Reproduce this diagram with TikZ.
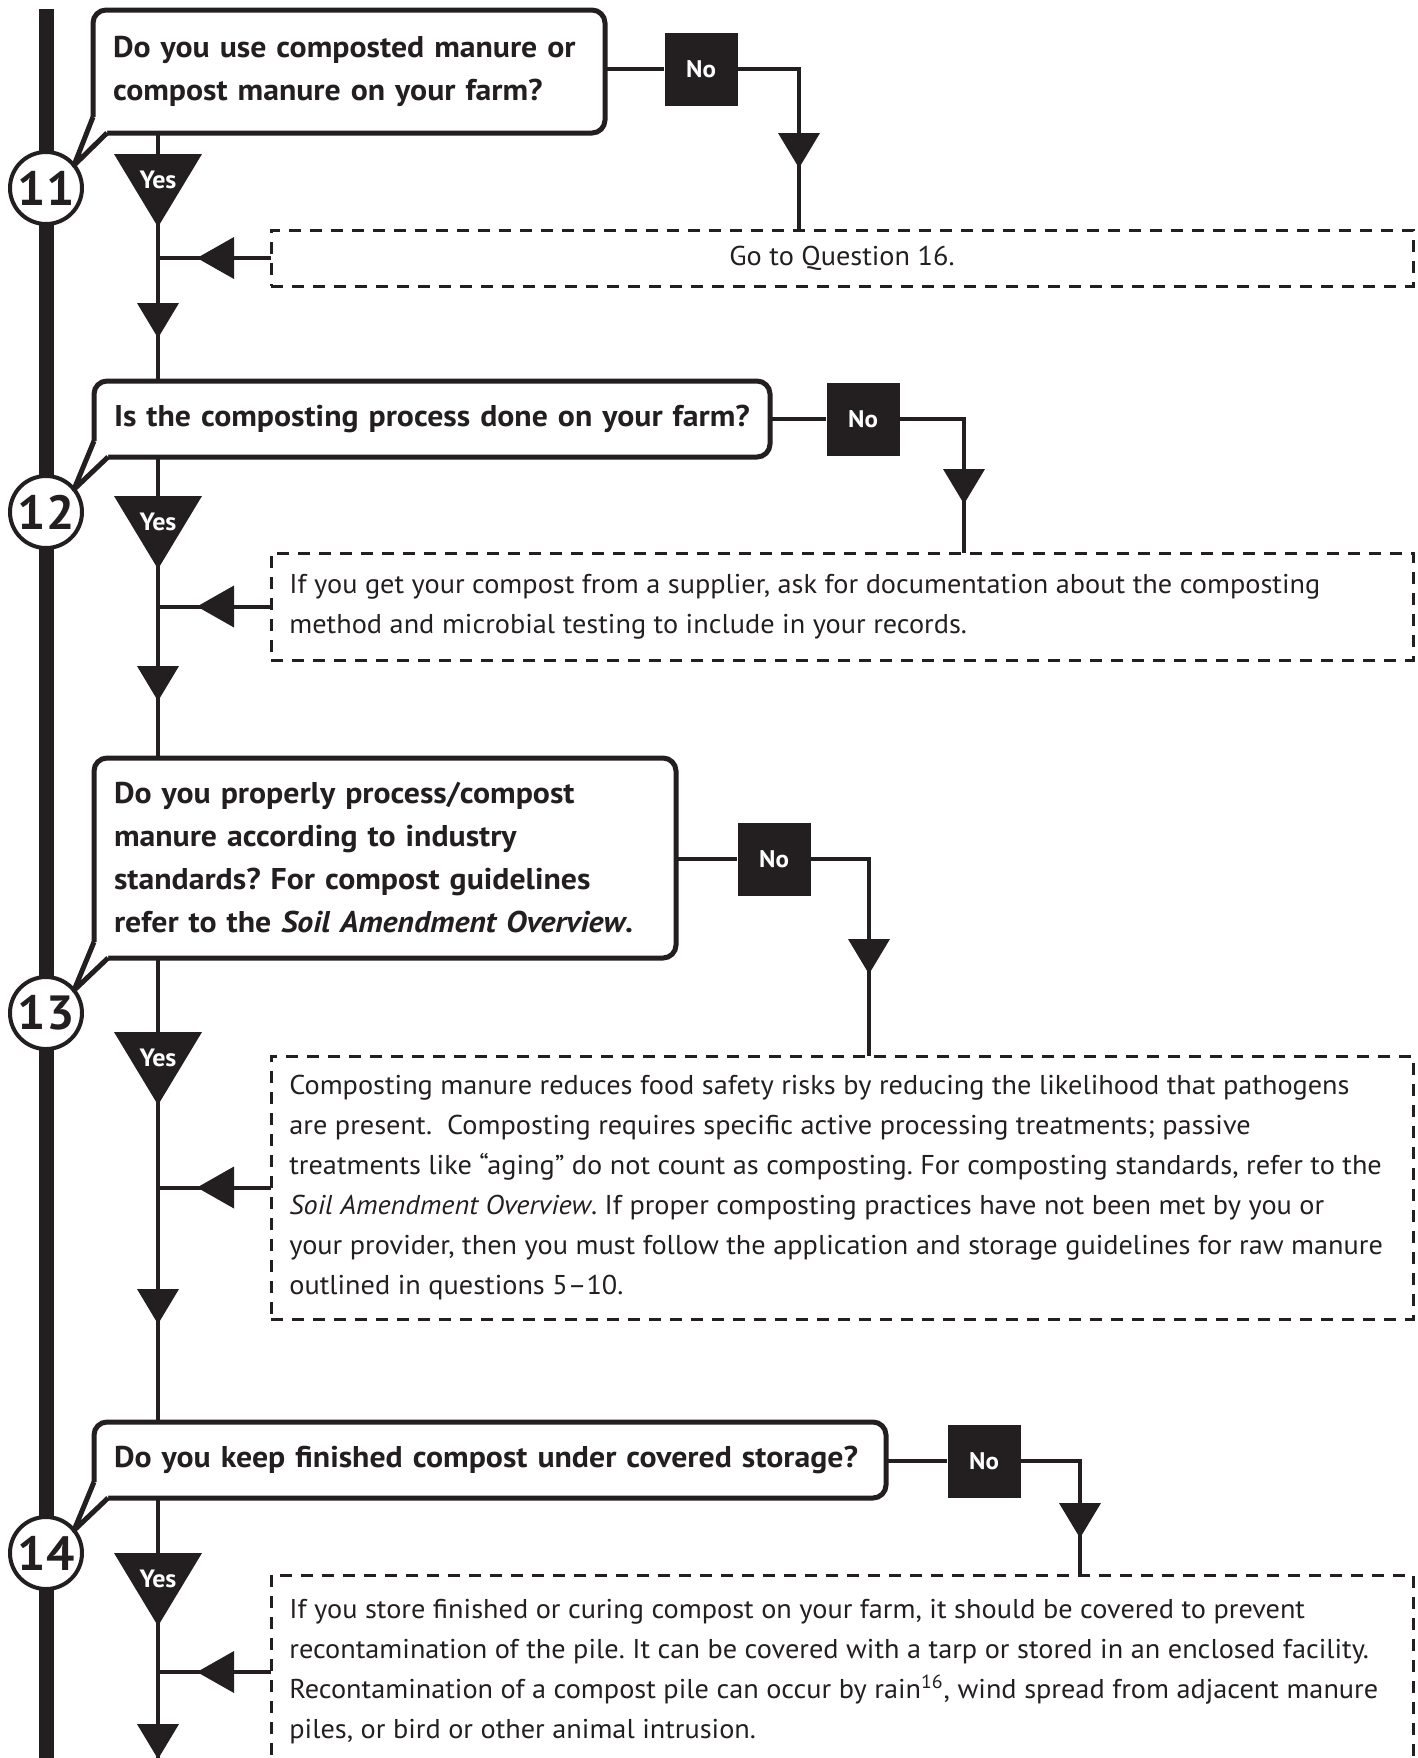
\documentclass[tikz,border=0pt]{standalone}
\usepackage{fontspec}
\setmainfont{PT Sans}[FakeStretch=1.04]
\newfontfamily\questionfont{PT Sans}[FakeStretch=1.06]
\usetikzlibrary{calc}
\definecolor{ink}{RGB}{35,31,32}
\tikzset{
  spine/.style={draw=ink,line width=7.5pt},
  flowline/.style={draw=ink,line width=2pt},
  questionbox/.style={draw=ink,fill=white,line width=2.5pt,rounded corners=6.5pt,anchor=north west,
    inner xsep=10pt,inner ysep=0pt,outer sep=0pt,align=left,text=ink,
    font=\questionfont\fontsize{15}{21.5}\selectfont\bfseries},
  calloutline/.style={draw=ink,line width=2.5pt,line join=round},
  numbercircle/.style={circle,draw=ink,fill=white,line width=2pt,minimum size=36pt,inner sep=0pt,
    outer sep=0pt,text=ink,font=\fontsize{24}{24}\selectfont\bfseries},
  nobox/.style={fill=ink,text=white,minimum size=36.5pt,inner sep=0pt,
    font=\fontsize{12}{12}\selectfont\bfseries},
  notebox/.style={draw=ink,line width=1.5pt,dash pattern=on 6pt off 4.5pt,anchor=north west,
    minimum width=571pt,inner sep=0pt,outer sep=0pt,text=ink,font=\fontsize{13.6}{20}\selectfont},
  notetext/.style={anchor=west,align=left,inner sep=0pt,text=ink,font=\fontsize{13.6}{20}\selectfont},
  yeslabel/.style={text=white,inner sep=0pt,font=\fontsize{12.5}{12.5}\selectfont\bfseries},
  yestri/.pic={\fill[ink] (-44,0) -- (44,0) -- (0,73) -- cycle;
    \node[yeslabel] (-lbl) at (0,26) {Yes};},
  downtip/.pic={\fill[ink] (-21,0) -- (21,0) -- (0,35) -- cycle;},
  lefttip/.pic={\fill[ink] (0,0) -- (37,-21) -- (37,21) -- cycle;}
}
\begin{document}
\frenchspacing
\begin{tikzpicture}[x=0.5pt,y=-0.5pt]
  \useasboundingbox (0,0) rectangle (1418,1758);
  \clip (0,0) rectangle (1418,1758);
  \coordinate (mainx) at (158,0);
  \coordinate (bottom) at (158,1800);

  % questions
  \node[questionbox,text width=236pt,minimum height=61.5pt] (q11) at (93,10)
    {Do you use composted manure or\\compost manure on your farm?};
  \node[questionbox,text width=318pt,minimum height=38pt] (q12) at (94,381)
    {Is the composting process done on your farm?};
  \node[questionbox,text width=271pt,minimum height=100pt] (q13) at (94,758)
    {Do you properly process/compost\\manure according to industry\\standards? For compost guidelines\\refer to the \textit{Soil Amendment Overview}.};
  \node[questionbox,text width=376pt,minimum height=38pt] (q14) at (94,1422)
    {Do you keep finished compost under covered storage?};

  % notes
  \node[notebox,minimum height=28pt] (n11) at (271,230) {Go to Question 16.};
  \node[notebox,minimum height=53.5pt] (n12) at (271,553) {};
  \node[notebox,minimum height=131.5pt] (n13) at (271,1056) {};
  \node[notebox,minimum height=97pt] (n14) at (271,1575) {};
  \node[notetext] (t12) at ($(n12.west)+(18,0)$)
    {If you get your compost from a supplier, ask for documentation about the composting\\
     method and microbial testing to include in your records.};
  \node[notetext] (t13) at ($(n13.west)+(18,0)$)
    {Composting manure reduces food safety risks by reducing the likelihood that pathogens\\
     are present.\ \ Composting requires specific active processing treatments; passive\\
     treatments like “aging” do not count as composting. For composting standards, refer to the\\
     \textit{Soil Amendment Overview}. If proper composting practices have not been met by you or\\
     your provider, then you must follow the application and storage guidelines for raw manure\\
     outlined in questions 5–10.};
  \node[notetext] (t14) at ($(n14.west)+(18,0)$)
    {If you store finished or curing compost on your farm, it should be covered to prevent\\
     recontamination of the pile. It can be covered with a tarp or stored in an enclosed facility.\\
     Recontamination of a compost pile can occur by rain\textsuperscript{16}, wind spread from adjacent manure\\
     piles, or bird or other animal intrusion.};

  % no boxes
  \node[nobox] (no11) at (701,69) {No};
  \node[nobox] (no12) at (863,419) {No};
  \node[nobox] (no13) at (774,859) {No};
  \node[nobox] (no14) at (984,1461) {No};
  \coordinate (drop11) at (799,230);
  \coordinate (drop12) at (964,553);
  \coordinate (drop13) at (869,1056);
  \coordinate (drop14) at (1080,1575);

  % spine and numbers
  \draw[spine] (46,9) -- (46,1800);
  \node[numbercircle] (c11) at (46,188) {11};
  \node[numbercircle] (c12) at (46,512) {12};
  \node[numbercircle] (c13) at (46,1013) {13};
  \node[numbercircle] (c14) at (46,1553) {14};

  % yes path
  \draw[flowline] (q11.south -| mainx) -- (q12.north -| mainx);
  \draw[flowline] (q12.south -| mainx) -- (q13.north -| mainx);
  \draw[flowline] (q13.south -| mainx) -- (q14.north -| mainx);
  \draw[flowline] (q14.south -| mainx) -- (bottom);
  \pic (y11) at (158,154) {yestri};
  \pic (y12) at (158,496) {yestri};
  \pic (y13) at (158,1032) {yestri};
  \pic (y14) at (158,1553) {yestri};
  \pic at (158,303) {downtip};
  \pic at (158,666) {downtip};
  \pic at (158,1289) {downtip};
  \pic at (158,1724) {downtip};

  % notes back to the yes path
  \draw[flowline] (n11.west) -- (n11.west -| mainx);
  \draw[flowline] (n12.west) -- (n12.west -| mainx);
  \draw[flowline] (n13.west) -- (n13.west -| mainx);
  \draw[flowline] (n14.west) -- (n14.west -| mainx);
  \pic at ($(n11.west -| mainx)+(39,0)$) {lefttip};
  \pic at ($(n12.west -| mainx)+(39,0)$) {lefttip};
  \pic at ($(n13.west -| mainx)+(39,0)$) {lefttip};
  \pic at ($(n14.west -| mainx)+(39,0)$) {lefttip};

  % no branches
  \draw[flowline] (q11.east |- no11) -- (no11.west);
  \draw[flowline] (no11.east) -| (drop11);
  \draw[flowline] (q12.east |- no12) -- (no12.west);
  \draw[flowline] (no12.east) -| (drop12);
  \draw[flowline] (q13.east |- no13) -- (no13.west);
  \draw[flowline] (no13.east) -| (drop13);
  \draw[flowline] (q14.east |- no14) -- (no14.west);
  \draw[flowline] (no14.east) -| (drop14);
  \pic at (799,133) {downtip};
  \pic at (964,469) {downtip};
  \pic at (869,939) {downtip};
  \pic at (1080,1503) {downtip};

  % callout tails
  \fill[white] ($(q11.south west)+(0,-16)$) -- (c11.39) -- ($(q11.south west)+(14,0)$) -- ($(q11.south west)+(14,-16)$) -- cycle;
  \draw[calloutline] ($(q11.south west)+(0,-16)$) -- (c11.39) -- ($(q11.south west)+(14,0)$);
  \fill[white] ($(q12.south west)+(0,-16)$) -- (c12.39) -- ($(q12.south west)+(14,0)$) -- ($(q12.south west)+(14,-16)$) -- cycle;
  \draw[calloutline] ($(q12.south west)+(0,-16)$) -- (c12.39) -- ($(q12.south west)+(14,0)$);
  \fill[white] ($(q13.south west)+(0,-16)$) -- (c13.39) -- ($(q13.south west)+(14,0)$) -- ($(q13.south west)+(14,-16)$) -- cycle;
  \draw[calloutline] ($(q13.south west)+(0,-16)$) -- (c13.39) -- ($(q13.south west)+(14,0)$);
  \fill[white] ($(q14.south west)+(0,-16)$) -- (c14.39) -- ($(q14.south west)+(14,0)$) -- ($(q14.south west)+(14,-16)$) -- cycle;
  \draw[calloutline] ($(q14.south west)+(0,-16)$) -- (c14.39) -- ($(q14.south west)+(14,0)$);
\end{tikzpicture}
\end{document}
